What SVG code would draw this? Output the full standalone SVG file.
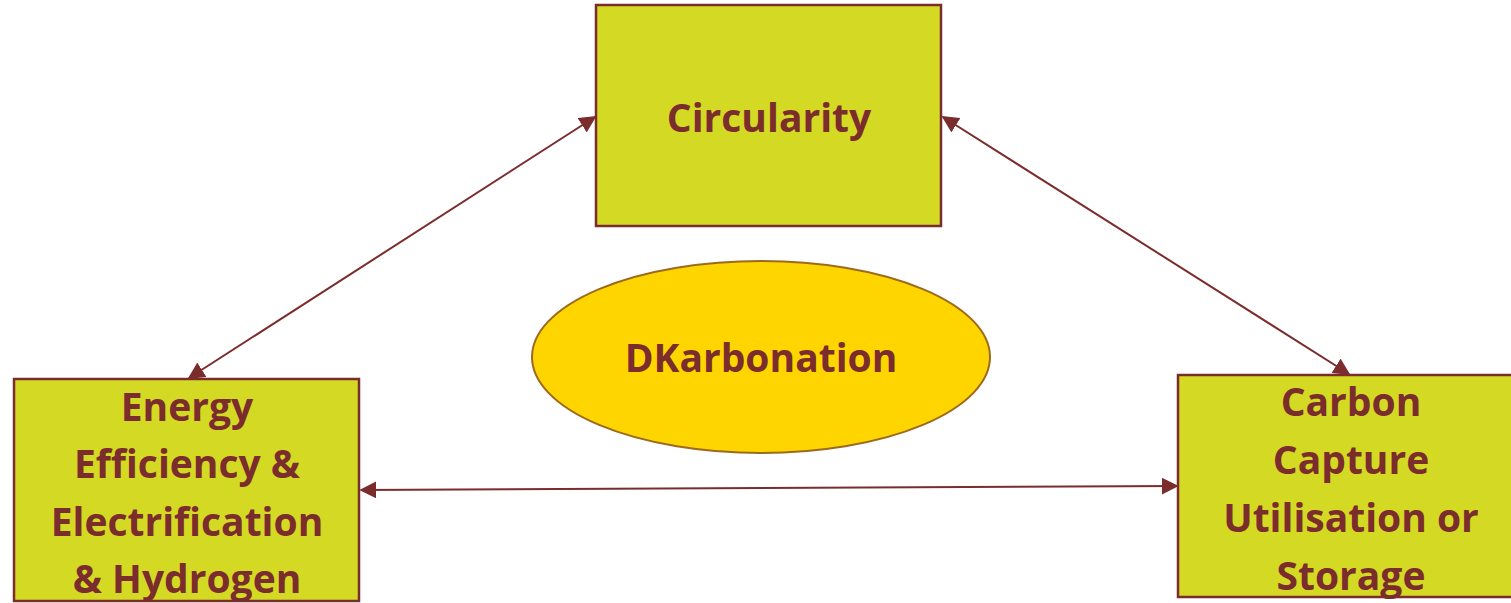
<svg xmlns="http://www.w3.org/2000/svg" width="1511" height="603" viewBox="0 0 1511 603">
<defs>
<style>
.box{fill:#D4D923;stroke:#7B2C2C;stroke-width:2.5}
.lbl{font-family:"Open Sans","Liberation Sans",sans-serif;font-weight:bold;font-size:39px;fill:#7B2C2C;text-anchor:middle}
.con{stroke:#7B2C2C;stroke-width:2;fill:none;marker-start:url(#ah);marker-end:url(#ah)}
</style>
<marker id="ah" viewBox="0 0 10 10" refX="9" refY="5" markerWidth="8.5" markerHeight="8.5" orient="auto-start-reverse">
<path d="M0,0 L10,5 L0,10 z" fill="#7B2C2C"/>
</marker>
</defs>
<rect width="1511" height="603" fill="#FFFFFF"/>
<g id="connectors">
<line class="con" x1="189" y1="378" x2="595" y2="117"/>
<line class="con" x1="943" y1="117" x2="1349" y2="374"/>
<line class="con" x1="361" y1="490" x2="1177" y2="486"/>
</g>
<g id="circularity">
<rect class="box" x="596" y="5" width="345" height="221"/>
<text class="lbl" x="769" y="132">Circularity</text>
</g>
<g id="dkarbonation">
<ellipse cx="761" cy="357" rx="229" ry="96" fill="#FFD500" stroke="#9C6A1E" stroke-width="2"/>
<text class="lbl" x="761" y="372">DKarbonation</text>
</g>
<g id="energy">
<rect class="box" x="14" y="379" width="345" height="222"/>
<text class="lbl" x="187" y="421">Energy</text>
<text class="lbl" x="187" y="478">Efficiency &amp;</text>
<text class="lbl" x="187" y="536">Electrification</text>
<text class="lbl" x="187" y="593">&amp; Hydrogen</text>
</g>
<g id="carbon">
<rect class="box" x="1178" y="375" width="345" height="222"/>
<text class="lbl" x="1351" y="416">Carbon</text>
<text class="lbl" x="1351" y="474">Capture</text>
<text class="lbl" x="1351" y="532">Utilisation or</text>
<text class="lbl" x="1351" y="590">Storage</text>
</g>
</svg>
